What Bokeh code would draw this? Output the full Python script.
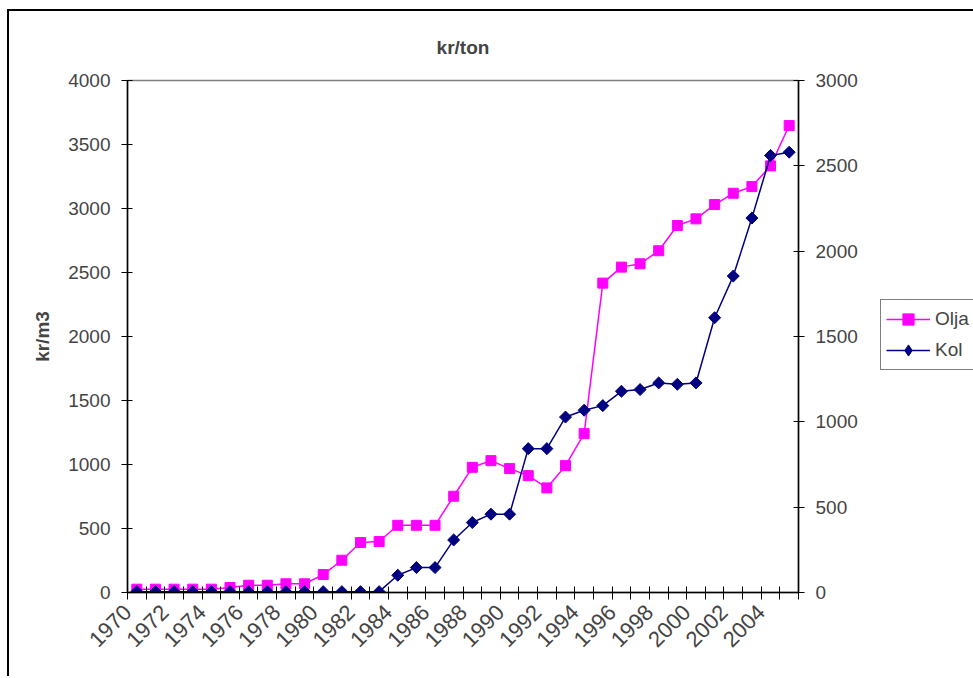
from math import pi

from bokeh.embed import file_html
from bokeh.layouts import row
from bokeh.models import (ColumnDataSource, FixedTicker, Legend, LegendItem,
                          LinearAxis, Range1d)
from bokeh.plotting import figure
from bokeh.resources import INLINE

# Years on the category axis
years = list(range(1970, 2006))
label_years = list(range(1970, 2005, 2))

# Oil price, kr/m3 (left axis)
olja = [26, 26, 26, 26, 26, 39, 57, 57, 68, 68,
        140, 252, 390, 398, 525, 525, 525, 752, 978, 1030,
        968, 913, 817, 991, 1241, 2417, 2542, 2568, 2670, 2867,
        2919, 3031, 3119, 3171, 3333, 3648]

# Coal price, kr/ton (right axis)
kol = [5, 5, 5, 5, 5, 5, 5, 5, 5, 5,
       5, 5, 5, 5, 101, 146, 146, 308, 410, 459,
       459, 843, 843, 1028, 1068, 1095, 1179, 1189, 1228, 1220,
       1228, 1610, 1854, 2194, 2561, 2580]

left_ticks = [0, 500, 1000, 1500, 2000, 2500, 3000, 3500, 4000]
right_ticks = [0, 500, 1000, 1500, 2000, 2500, 3000]
series_names = ["Olja", "Kol"]

FONT = "Liberation Sans"
OLJA_COLOR = "#FF00FF"
KOL_COLOR = "#000080"

W, H = 862, 665

p = figure(width=W, height=H, output_backend="svg", toolbar_location=None,
           x_range=Range1d(1969.5, 2005.5), y_range=Range1d(0, 4000),
           min_border_left=118, min_border_right=W - 789,
           min_border_top=69, min_border_bottom=H - 581,
           title="kr/ton")
p.extra_y_ranges = {"kol": Range1d(0, 3000)}

p.title.align = "center"
p.title.text_font = FONT
p.title.text_font_size = "19px"
p.title.text_font_style = "bold"
p.title.standoff = 46

p.xgrid.visible = False
p.ygrid.visible = False
p.outline_line_color = "#808080"
p.outline_line_width = 1.5
p.background_fill_color = "white"
p.border_fill_color = "white"

# Left axis (oil)
ya = p.yaxis[0]
ya.ticker = FixedTicker(ticks=left_ticks, minor_ticks=[])
ya.axis_label = "kr/m3"
ya.axis_label_text_font = FONT
ya.axis_label_text_font_size = "19px"
ya.axis_label_text_font_style = "bold"
ya.axis_label_standoff = 12
ya.major_label_text_font = FONT
ya.major_label_text_font_size = "19px"
ya.major_label_standoff = 11
ya.major_tick_in = 5
ya.major_tick_out = 6
ya.minor_tick_in = 0
ya.minor_tick_out = 0
ya.axis_line_width = 1.5

# Right axis (coal)
ra = LinearAxis(y_range_name="kol",
                ticker=FixedTicker(ticks=right_ticks, minor_ticks=[]))
ra.major_label_text_font = FONT
ra.major_label_text_font_size = "19px"
ra.major_label_standoff = 11
ra.major_tick_in = 5
ra.major_tick_out = 6
ra.minor_tick_in = 0
ra.minor_tick_out = 0
ra.axis_line_width = 1.5
p.add_layout(ra, "right")

# Category axis: tick marks between years, labels every second year.
# Rotated labels hang with their upper end at the left edge of the year's slot.
label_pos = [y - 0.5 for y in label_years]
xa = p.xaxis[0]
xa.ticker = FixedTicker(ticks=label_pos,
                        minor_ticks=[y - 0.5 for y in years] + [years[-1] + 0.5])
xa.major_label_overrides = {pos: str(y) for pos, y in zip(label_pos, label_years)}
xa.major_tick_in = 0
xa.major_tick_out = 0
xa.minor_tick_in = 6
xa.minor_tick_out = 7
xa.major_label_orientation = pi / 4
xa.major_label_text_font = FONT
xa.major_label_text_font_size = "22px"
xa.major_label_standoff = 9
xa.axis_line_width = 1.5

src = ColumnDataSource(dict(year=years, olja=olja, kol=kol))

p.line("year", "olja", source=src, color=OLJA_COLOR, line_width=1.5)
p.scatter("year", "olja", source=src, marker="square", size=10,
          color=OLJA_COLOR)
p.line("year", "kol", source=src, color=KOL_COLOR, line_width=1.5,
       y_range_name="kol")
p.scatter("year", "kol", source=src, marker="square", size=8.5,
          angle=pi / 4, color=KOL_COLOR, y_range_name="kol")

# Legend panel to the right of the chart; its renderers sit outside the
# visible range and only supply the legend swatches
LW = 973 - 9 - W
lf = figure(width=LW, height=H, output_backend="svg", toolbar_location=None,
            x_range=Range1d(0, 1), y_range=Range1d(0, 1),
            x_axis_location=None, y_axis_location=None,
            min_border=0, min_border_left=0, min_border_right=0,
            min_border_top=0, min_border_bottom=0)
lf.xgrid.visible = False
lf.ygrid.visible = False
lf.outline_line_color = None
lf.background_fill_color = "white"
lf.border_fill_color = "white"

ol = lf.line("year", "olja", source=src, color=OLJA_COLOR, line_width=1.5)
om = lf.scatter("year", "olja", source=src, marker="square", size=10,
                color=OLJA_COLOR)
kl = lf.line("year", "kol", source=src, color=KOL_COLOR, line_width=1.5)
km = lf.scatter("year", "kol", source=src, marker="diamond", size=14,
                color=KOL_COLOR)

legend = Legend(items=[LegendItem(label=series_names[0], renderers=[ol, om]),
                       LegendItem(label=series_names[1], renderers=[kl, km])],
                location=(9, 222))
legend.label_text_font = FONT
legend.label_text_font_size = "19px"
legend.glyph_width = 44
legend.glyph_height = 28
legend.label_height = 28
legend.label_standoff = 5
legend.spacing = 3
legend.padding = 5
legend.border_line_color = "black"
legend.border_line_width = 1
legend.background_fill_alpha = 1
lf.add_layout(legend, "center")

page = row(p, lf, spacing=0)
page.margin = (9, 0, 0, 7)
page.styles = {"border-left": "2px solid black", "border-top": "2px solid black"}

open("out.html", "w").write(file_html(page, INLINE))
